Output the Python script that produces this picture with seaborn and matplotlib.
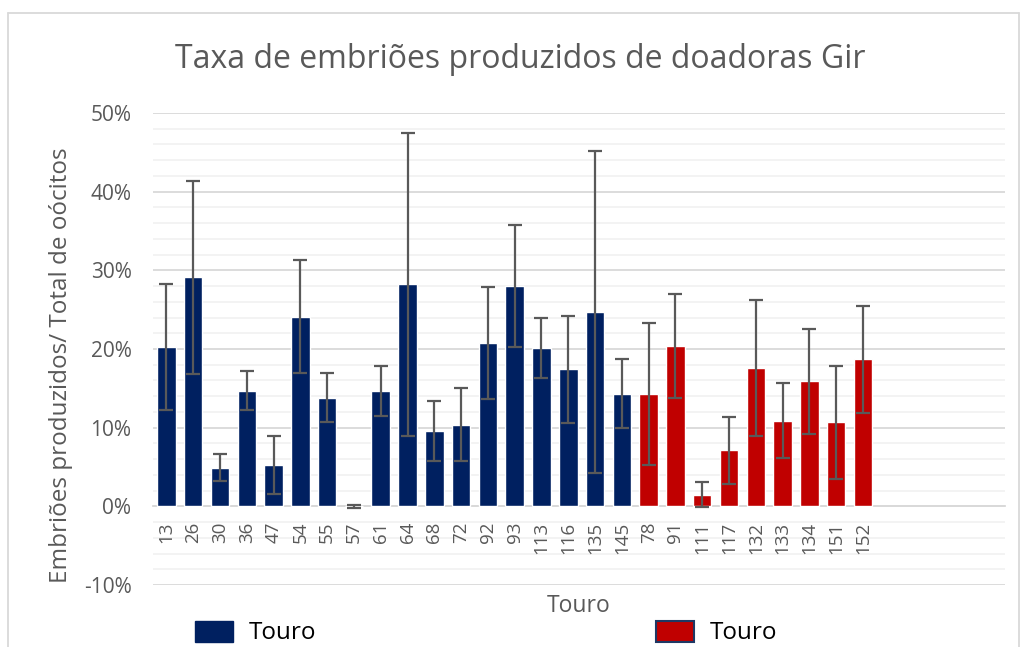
import numpy as np
import pandas as pd
import matplotlib.pyplot as plt
import seaborn as sns
from matplotlib.patches import Patch
from matplotlib.lines import Line2D
from matplotlib.ticker import MultipleLocator, PercentFormatter

sns.set_theme(style="white")
plt.rcParams['font.family'] = ['Open Sans', 'DejaVu Sans']
plt.rcParams['axes.unicode_minus'] = False

# dados (em %)
touros = ["13", "26", "30", "36", "47", "54", "55", "57", "61", "64", "68", "72", "92", "93",
          "113", "116", "135", "145", "78", "91", "111", "117", "132", "133", "134", "151", "152"]
grupo = ["A"] * 18 + ["B"] * 9
taxa = [20.3, 29.1, 4.9, 14.7, 5.3, 24.1, 13.8, 0.0, 14.7, 28.2, 9.6, 10.4, 20.8, 28.0,
        20.1, 17.4, 24.7, 14.3, 14.3, 20.4, 1.5, 7.1, 17.6, 10.9, 15.9, 10.7, 18.7]
erro = [8.0, 12.3, 1.7, 2.5, 3.7, 7.2, 3.1, 0.2, 3.2, 19.3, 3.8, 4.7, 7.1, 7.8,
        3.8, 6.8, 20.5, 4.4, 9.0, 6.6, 1.6, 4.2, 8.6, 4.75, 6.7, 7.2, 6.8]

azul = "#002060"
vermelho = "#C00000"
cinza = "#595959"

df = pd.DataFrame({"touro": touros, "grupo": grupo, "taxa": taxa, "erro": erro})

fig = plt.figure(figsize=(10.21, 6.47), dpi=100)
ax = fig.add_axes([153 / 1021, 1 - 585 / 647, (1005 - 153) / 1021, (585 - 113) / 647])

sns.barplot(data=df, x="touro", y="taxa", hue="grupo", order=touros,
            palette={"A": azul, "B": vermelho}, dodge=False, width=0.69, saturation=1,
            errorbar=None, legend=False, ax=ax, zorder=3)
ax.errorbar(np.arange(len(touros)), df["taxa"], yerr=df["erro"], fmt="none",
            ecolor=cinza, elinewidth=1.6, capsize=5, capthick=1.6, zorder=4)

ax.set_xlim(-0.5, 31.3)
ax.set_ylim(-10, 50)
ax.yaxis.set_major_locator(MultipleLocator(10))
ax.yaxis.set_minor_locator(MultipleLocator(2))
ax.yaxis.set_major_formatter(PercentFormatter(decimals=0))
ax.grid(axis="y", which="major", color="#d9d9d9", lw=1.3)
ax.grid(axis="y", which="minor", color="#f2f2f2", lw=1.3)
ax.set_axisbelow(True)
ax.xaxis.set_zorder(2)

for s in ["top", "right", "left"]:
    ax.spines[s].set_visible(False)
ax.spines["bottom"].set_position(("data", 0))
ax.spines["bottom"].set_color("#d9d9d9")
ax.spines["bottom"].set_linewidth(1.3)

ax.tick_params(axis="x", length=0, pad=11, labelsize=13.5, labelcolor=cinza, labelrotation=90)
ax.tick_params(axis="y", which="both", length=0, pad=15.5, labelsize=15, labelcolor=cinza)
ax.set_xlabel("")
ax.set_ylabel("Embriões produzidos/ Total de oócitos", fontsize=17.5, color=cinza)
ax.yaxis.set_label_coords(-80 / 852, (585 - 365) / 472)

fig.text(520 / 1021, 1 - 60 / 647, "Taxa de embriões produzidos de doadoras Gir",
         ha="center", va="center", fontsize=23, color=cinza)
fig.text(579 / 1021, 1 - 606 / 647, "Touro", ha="center", va="center", fontsize=16.5, color=cinza)

handles = [Patch(facecolor=azul, edgecolor=azul),
           Patch(facecolor=vermelho, edgecolor="#1f3864", lw=1.5)]
fig.legend(handles, ["Touro", "Touro"], loc="upper left", ncol=2, frameon=False,
           bbox_to_anchor=(180 / 1021, 1 - 606 / 647), fontsize=17.5,
           handlelength=1.56, handleheight=0.95, handletextpad=0.65, columnspacing=14.0,
           borderpad=0.1, labelcolor="black")

# moldura do grafico
fig.add_artist(Line2D([8 / 1021, 8 / 1021], [0, 1 - 13 / 647], transform=fig.transFigure,
                      color="#d9d9d9", lw=1.3))
fig.add_artist(Line2D([8 / 1021, 1019 / 1021], [1 - 13 / 647, 1 - 13 / 647], transform=fig.transFigure,
                      color="#d9d9d9", lw=1.3))
fig.add_artist(Line2D([1019 / 1021, 1019 / 1021], [0, 1 - 13 / 647], transform=fig.transFigure,
                      color="#d9d9d9", lw=1.3))

fig.savefig("out.png", dpi=100)
